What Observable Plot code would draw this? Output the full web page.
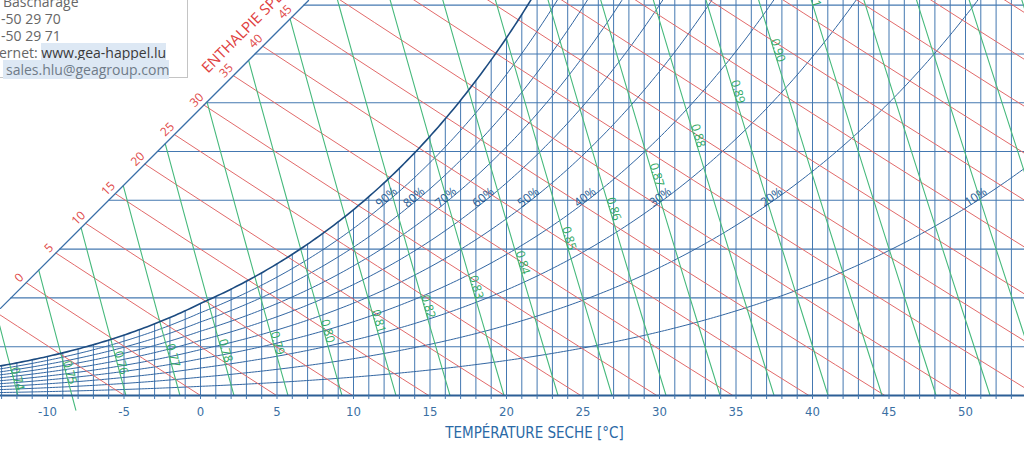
<!DOCTYPE html>
<html><head><meta charset="utf-8">
<script src="https://cdn.jsdelivr.net/npm/d3@7"></script>
<script src="https://cdn.jsdelivr.net/npm/@observablehq/plot@0.6"></script>
<style>
html,body{margin:0;padding:0;background:#fff;overflow:hidden}
#wrap{position:relative;width:1024px;height:460px;overflow:hidden}
#info{position:absolute;left:-60px;top:-20px;width:246px;height:96px;border:1px solid #c4c4c4;background:#fff;font-family:"Open Sans",sans-serif;font-size:14px;color:#666;}
#info div{position:absolute;white-space:nowrap;line-height:17px;}
.hl{background:#dde8f4}
</style></head><body>
<div id="wrap"><div id="chart"></div>
<div id="info">
  <div style="left:62px;top:12px">Bascharage</div>
  <div style="left:60px;top:29px">-50 29 70</div>
  <div style="left:60px;top:46px">-50 29 71</div>
  <div style="left:58px;top:63px">ernet: <span class="hl" style="color:#3a3a3a">www.gea-happel.lu</span></div>
  <div style="left:62px;top:80px"><span class="hl" style="color:#6f7b88;padding-left:3px">sales.hlu@geagroup.com</span></div>
</div>
</div>
<script>
// ---- data ----
const tempDomain = [-13.072, 53.856];        // °C, visible dry-bulb range
const humidityDomain = [0, 16.19];           // g/kg, visible humidity-ratio range
const tempLines = d3.range(-13, 54, 1);      // vertical isotherms every 1 °C
const tickLabels = [-10, -5, 0, 5, 10, 15, 20, 25, 30, 35, 40, 45, 50];
const humidityLevels = [2, 4, 6, 8, 10, 12, 14, 16];   // g/kg
const rhLevels = [10, 20, 30, 40, 50, 60, 70, 80, 90]; // %
const rhLabelW = 8;                                    // g/kg, where % labels sit
const enthalpyLevels = [-5,0,5,10,15,20,25,30,35,40,45,50,55,60,65,70,75,80,85,90,95]; // kJ/kg
const enthalpyLabels = [0, 5, 10, 15, 20, 25, 30, 35, 40, 45];
const volumeLevels = [0.74,0.75,0.76,0.77,0.78,0.79,0.80,0.81,0.82,0.83,0.84,0.85,0.86,0.87,0.88,0.89,0.90,0.91,0.92,0.93,0.94,0.95];
const volumeLabels = [0.74,0.75,0.76,0.77,0.78,0.79,0.80,0.81,0.82,0.83,0.84,0.85,0.86,0.87,0.88,0.89,0.90,0.91];
const volumeLabelW = [0.65,0.9,1.3,1.6,1.8,2.1,2.6,3.0,3.6,4.4,5.4,6.4,7.6,9.0,10.6,12.4,14.1,16.35];
// the 0.75 line runs on a little below the axis in the original
const volumeOverrun = {v: 0.75, W: -0.6};
// oblique enthalpy scale line (T °C, W g/kg) at its two ends
const diagFrom = {T: -13.072, W: 3.57};
const diagTo = {T: 7.06, W: 16.19};
const enthalpyTitle = "ENTHALPIE SPÉCIFIQUE [kJ/kg]";
const enthalpyTitleAt = 33;
const xTitle = "TEMPÉRATURE SECHE [°C]";

// ---- psychrometrics ----
const P = 101325;
const psat = T => T >= 0 ? 610.94*Math.exp(17.625*T/(T+243.04)) : 611.15*Math.exp(22.452*T/(272.55+T));
const wFromPw = pw => 621.945*pw/(P-pw);
const wRH = (T, rh) => wFromPw(rh/100*psat(T));
const wEnth = (T, h) => (h-1.006*T)*1000/(2501+1.86*T);
const tVol = (W, v) => v*P/(287.042*(1+1.607858*W/1000)) - 273.15;
const diagSlope = (diagTo.W-diagFrom.W)/(diagTo.T-diagFrom.T);
const wDiag = T => diagFrom.W + diagSlope*(T-diagFrom.T);
function solve(f, a, b){ let fa=f(a); for(let i=0;i<70;i++){const m=(a+b)/2, fm=f(m); if((fm>0)===(fa>0)){a=m;fa=fm;} else b=m;} return (a+b)/2; }

const width = 1024, height = 460, marginBottom = 65;
const kx = width/(tempDomain[1]-tempDomain[0]);
const ky = (height-marginBottom)/(humidityDomain[1]-humidityDomain[0]);
const pxAngle = (dT, dW) => Math.atan2(-dW*ky, dT*kx)*180/Math.PI;

// horizontal humidity lines start on the oblique scale
const hRows = humidityLevels.map(W => ({W, T1: diagFrom.T + (W-diagFrom.W)/diagSlope, T2: tempDomain[1]}));

// enthalpy lines
const enthRows = [];
const enthStart = {};
for (const h of enthalpyLevels) {
  const Tend = h/1.006;
  const Ts = solve(T => wEnth(T,h) - wDiag(T), -80, Tend);
  enthStart[h] = {T: Ts, W: wEnth(Ts,h)};
  for (let i=0;i<=12;i++){ const T = Ts + (Tend-Ts)*i/12; enthRows.push({h, T, W: Math.max(0,wEnth(T,h))}); }
}
// volume lines
const volRows = [];
for (const v of volumeLevels) {
  const Wt = solve(W => W - wDiag(tVol(W,v)), 0, 80);
  const Wmax = Math.min(Wt, humidityDomain[1]+2);
  for (let i=0;i<=12;i++){ const W = Wmax*i/12; volRows.push({v, T: tVol(W,v), W}); }
}
const overRows = [0, volumeOverrun.W].map(W => ({T: tVol(W, volumeOverrun.v), W}));
// relative humidity curves
const rhRows = [];
for (const rh of [...rhLevels, 100]) {
  for (let T = tempDomain[0]; T <= tempDomain[1]+0.2; T += 0.2) {
    const W = wRH(T, rh);
    rhRows.push({rh, T, W});
    if (W > humidityDomain[1]+1) break;
  }
}
// labels
const rhLab = rhLevels.map(rh => {
  const pw = rhLabelW*P/(621.945+rhLabelW), ps = pw/(rh/100), L = Math.log(ps/610.94);
  const T = 243.04*L/(17.625-L);
  const d = 0.05;
  return {t: rh+"%", T, W: rhLabelW, a: pxAngle(2*d, wRH(T+d,rh)-wRH(T-d,rh))};
});
const enthLab = enthalpyLabels.map(h => ({t: String(h), ...enthStart[h]}));
const titleAt = (() => { const h = enthalpyTitleAt; const T = solve(T => wEnth(T,h)-wDiag(T), -80, h); return {T, W: wDiag(T)}; })();
const volLab = volumeLabels.map((v,i) => {
  const W = volumeLabelW[i], d = 0.1;
  const T1 = tVol(W+d,v), T2 = tVol(W-d,v);
  return {t: v.toFixed(2), T: tVol(W,v), W, a: Math.atan2(2*d*ky, (T2-T1)*kx)*180/Math.PI};
});

const blue = "#4478b1", red = "#e26a6a", green = "#46b97c";
const lab = "Open Sans, sans-serif";
const narrow = "Liberation Sans Narrow, DejaVu Sans Condensed, sans-serif";

const chart = Plot.plot({
  width, height, marginTop: 0, marginRight: 0, marginLeft: 0, marginBottom,
  x: {domain: tempDomain, axis: null},
  y: {domain: humidityDomain, axis: null},
  style: {background: "transparent", overflow: "hidden"},
  marks: [
    Plot.ruleX(tempLines, {x: d => d, y1: 0, y2: d => Math.min(wRH(d,100), humidityDomain[1]), stroke: blue, strokeWidth: 1, clip: true}),
    Plot.ruleY(hRows, {y: "W", x1: "T1", x2: "T2", stroke: blue, strokeWidth: 1.1, clip: true}),
    Plot.line(rhRows.filter(d => d.rh < 100), {x: "T", y: "W", z: "rh", stroke: "#3266a2", strokeWidth: 1, clip: true}),
    Plot.line(enthRows, {x: "T", y: "W", z: "h", stroke: red, strokeWidth: 1, clip: true}),
    Plot.line(volRows, {x: "T", y: "W", z: "v", stroke: green, strokeWidth: 1.1, clip: true}),
    Plot.line(overRows, {x: "T", y: "W", stroke: green, strokeWidth: 1.1}),
    Plot.line(rhRows.filter(d => d.rh === 100), {x: "T", y: "W", stroke: "#1c4b80", strokeWidth: 1.6, clip: true}),
    Plot.line([diagFrom, diagTo], {x: "T", y: "W", stroke: "#3a6fa8", strokeWidth: 1.3, clip: true}),
    Plot.ruleY([0], {stroke: "#2c5f96", strokeWidth: 2}),
    Plot.axisX({ticks: tempLines, tickSize: 4, tickPadding: 7, stroke: blue, fill: "#3a6fa3", fontSize: 13, fontFamily: narrow,
      tickFormat: d => tickLabels.includes(d) ? String(d) : "", label: null}),
    Plot.text([xTitle], {frameAnchor: "bottom", dx: 22, dy: 42, fill: "#2a69a6", fontSize: 15, fontFamily: narrow}),
    Plot.text(rhLab, {x: "T", y: "W", text: "t", rotate: "a", lineAnchor: "bottom", fill: "#245a92", fontSize: 12, fontFamily: lab, clip: true}),
    Plot.text(volLab, {x: "T", y: "W", text: "t", rotate: "a", lineAnchor: "bottom", fill: "#2ea862", fontSize: 12, fontFamily: lab}),
    Plot.text(enthLab, {x: "T", y: "W", text: "t", rotate: -45, dx: -7, dy: -5, fill: "#e04a4a", fontSize: 12, fontFamily: lab}),
    Plot.text([titleAt], {x: "T", y: "W", text: () => enthalpyTitle, rotate: -45, dx: -17, dy: -17, textAnchor: "start", fill: "#e04040", fontSize: 15, fontFamily: lab})
  ]
});
document.getElementById("chart").appendChild(chart);
</script>
</body></html>
